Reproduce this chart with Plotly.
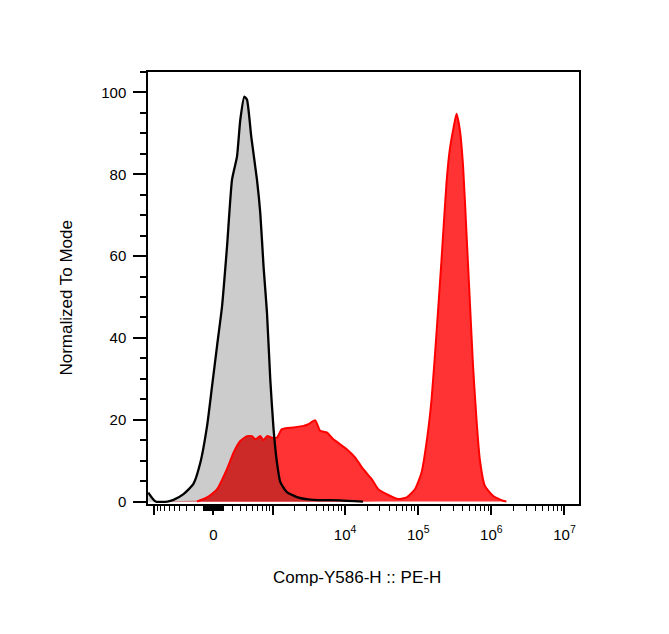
import numpy as np
import plotly.graph_objects as go

# Display scale (biexponential-like): u = asinh(value / COFACTOR) / ln(10)
COFACTOR = 316.0

# Control histogram (grey, black outline): display-scale position, % of mode
control_x = [-0.89, -0.791, -0.628, -0.546, -0.409, -0.273, -0.177, -0.086, -0.018,
             0.050, 0.119, 0.187, 0.255, 0.323, 0.368, 0.423, 0.460, 0.518, 0.596,
             0.641, 0.686, 0.733, 0.778, 0.823, 0.869, 0.914, 1.005, 1.142, 1.364,
             1.733, 2.046]
control_y = [2.2, 0, 0, 0.4, 1.8, 4.3, 9.6, 18.5, 28.2,
             38, 47.8, 62.4, 78.7, 84.3, 93.3, 99, 98.2, 89.2, 78.7,
             70.6, 57.5, 46.2, 29.9, 17.7, 9.6, 4.8, 2.3, 1.1, 0.4,
             0.3, 0]

# Stained sample histogram (red)
sample_x = [-0.222, -0.086, 0.050, 0.187, 0.277, 0.368, 0.460, 0.528, 0.573, 0.641,
            0.686, 0.733, 0.801, 0.869, 0.937, 1.096, 1.232, 1.300, 1.392, 1.460,
            1.551, 1.641, 1.733, 1.824, 1.937, 2.050, 2.165, 2.255, 2.392, 2.528,
            2.643, 2.756, 2.847, 2.915, 2.984, 3.052, 3.120, 3.188, 3.233, 3.288,
            3.325, 3.370, 3.415, 3.461, 3.506, 3.551, 3.598, 3.643, 3.711, 3.824,
            3.960, 4.007]
sample_y = [0, 1, 3, 8, 12, 14.8, 16, 16, 15.2, 16,
            15, 16, 15.6, 15.6, 17.7, 18.1, 18.5, 18.9, 19.9, 17.3,
            16.9, 15.2, 14, 12.8, 10.8, 7.9, 5.5, 3, 1.6, 0.6,
            1, 3, 7.1, 14.4, 25, 41.3, 59.1, 77.9, 86, 91.7,
            94.8, 90.9, 81.9, 65.7, 49.4, 33.1, 20.1, 10.4, 3.9, 1.4,
            0.2, 0]

# Axis ticks (in data units)
major_tick_values = [-1000, 0, 1e3, 1e4, 1e5, 1e6, 1e7]
major_tick_labels = ["", "0", "", "10<sup>4</sup>", "10<sup>5</sup>", "10<sup>6</sup>", "10<sup>7</sup>"]
y_tick_values = [0, 20, 40, 60, 80, 100]

X_RANGE = [-0.894, 5.0]
Y_RANGE = [-0.6, 105]


def to_display(v):
    return np.arcsinh(np.asarray(v, dtype=float) / COFACTOR) / np.log(10)


minor_vals = []
for n in (1, 2):
    for k in range(1, 10):
        minor_vals += [k * 10 ** n, -k * 10 ** n]
for n in (3, 4, 5, 6):
    for k in range(2, 10):
        minor_vals.append(k * 10 ** n)
minor_u = [u for u in to_display(minor_vals) if X_RANGE[0] <= u <= X_RANGE[1]]

# overlap region (grey under red, multiplied colour)
grid = np.linspace(min(control_x), max(sample_x), 3000)
gi = np.interp(grid, control_x, control_y, left=0, right=0)
ri = np.interp(grid, sample_x, sample_y, left=0, right=0)
ov = np.minimum(gi, ri)

SMOOTH = 0.5
fig = go.Figure()
fig.add_trace(go.Scatter(x=control_x, y=control_y, mode="lines", fill="tozeroy",
                         fillcolor="#CCCCCC", line=dict(width=0, shape="spline", smoothing=SMOOTH),
                         hoverinfo="skip"))
fig.add_trace(go.Scatter(x=sample_x, y=sample_y, mode="lines", fill="tozeroy",
                         fillcolor="#FF3333", line=dict(width=0, shape="spline", smoothing=SMOOTH),
                         hoverinfo="skip"))
fig.add_trace(go.Scatter(x=grid, y=ov, mode="lines", fill="tozeroy",
                         fillcolor="rgb(204,41,41)", line=dict(width=0), hoverinfo="skip"))
fig.add_trace(go.Scatter(x=sample_x, y=sample_y, mode="lines",
                         line=dict(color="#FF0000", width=2, shape="spline", smoothing=SMOOTH)))
fig.add_trace(go.Scatter(x=control_x, y=control_y, mode="lines",
                         line=dict(color="#000000", width=2.3, shape="spline", smoothing=SMOOTH)))

font_family = "Liberation Sans, Arial, sans-serif"

fig.update_layout(
    width=669, height=634,
    margin=dict(l=139.5, r=97.5, t=64.3, b=138),
    paper_bgcolor="white", plot_bgcolor="white",
    showlegend=False,
    font=dict(family=font_family, color="black", size=15),
    xaxis=dict(
        range=X_RANGE, tickmode="array",
        tickvals=list(to_display(major_tick_values)), ticktext=major_tick_labels,
        ticks="outside", ticklen=9, tickwidth=2, tickcolor="black",
        showline=True, linecolor="black", linewidth=1.5, mirror=True,
        showgrid=False, zeroline=False, ticklabelstandoff=7,
        tickfont=dict(size=15, family=font_family),
        minor=dict(tickmode="array", tickvals=minor_u, ticks="outside",
                   ticklen=5, tickwidth=1, tickcolor="black", showgrid=False),
    ),
    yaxis=dict(
        range=Y_RANGE, tickmode="array", tickvals=y_tick_values,
        ticks="outside", ticklen=13, tickwidth=2, tickcolor="black",
        showline=True, linecolor="black", linewidth=1.5, mirror=True,
        showgrid=False, zeroline=False, ticklabelstandoff=4,
        tickfont=dict(size=15, family=font_family),
        minor=dict(dtick=5, tick0=0, ticks="outside", ticklen=6, tickwidth=1.5,
                   tickcolor="black", showgrid=False),
    ),
    annotations=[
        dict(text="Normalized To Mode", xref="paper", yref="paper",
             x=-0.1887, y=0.477, textangle=-90, showarrow=False,
             xanchor="center", yanchor="middle",
             font=dict(size=17, family=font_family, color="black")),
        dict(text="Comp-Y586-H :: PE-H", xref="paper", yref="paper",
             x=0.484, y=-0.170, showarrow=False,
             xanchor="center", yanchor="middle",
             font=dict(size=17, family=font_family, color="black")),
    ],
)

fig.write_html("out.html")
